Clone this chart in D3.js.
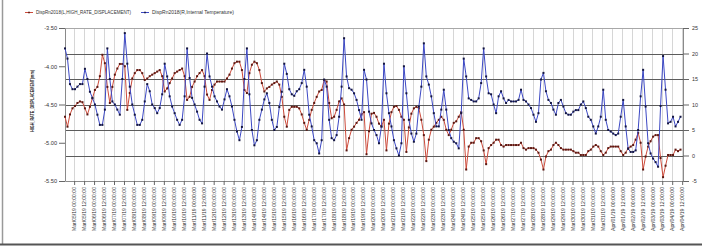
<!DOCTYPE html>
<html>
<head>
<meta charset="utf-8">
<script src="https://cdn.jsdelivr.net/npm/d3@7"></script>
<style>
html, body { margin: 0; padding: 0; background: #fff; }
svg { display: block; font-family: "Liberation Sans", Arial, sans-serif; }
</style>
</head>
<body>
<div id="chart"></div>
<script>
// Series names, axis ticks and sampling
const seriesNames = ["DispRn2018(L,HIGH_RATE_DISPLACEMENT)", "DispRn2018(R,Internal Temperature)"];
const leftTitle = "HIGH_RATE_DISPLACEMENT(mm)";
const leftTicks = [-3.5, -4.0, -4.5, -5.0, -5.5];
const rightTicks = [-5, 0, 5, 10, 15, 20, 25];
const startTime = Date.UTC(2019, 2, 4, 13); // first sample
const endTime = Date.UTC(2019, 3, 4, 13);
const stepHours = 3;

// HIGH_RATE_DISPLACEMENT (mm), one row per day (8 samples of 3 h)
const displacement = [
  -4.66, -4.79, -4.63, -4.55, -4.52, -4.48, -4.46, -4.47,
  -4.55, -4.63, -4.53, -4.42, -4.31, -4.27, -4.13, -3.85,
  -3.96, -4.27, -4.48, -4.27, -4.11, -4.03, -3.97, -3.97,
  -4.00, -4.57, -4.35, -4.16, -4.09, -4.05, -4.05, -4.09,
  -4.18, -4.16, -4.13, -4.11, -4.09, -4.07, -4.05, -4.13,
  -4.33, -4.29, -4.22, -4.16, -4.09, -4.07, -4.05, -4.03,
  -4.13, -4.44, -4.40, -4.27, -4.20, -4.13, -4.09, -4.05,
  -4.13, -4.37, -4.44, -4.31, -4.24, -4.20, -4.20, -4.20,
  -4.20, -4.16, -4.11, -4.03, -3.96, -3.94, -3.94, -4.05,
  -4.31, -4.35, -4.09, -3.98, -3.94, -3.96, -4.05, -4.22,
  -4.33, -4.29, -4.27, -4.24, -4.22, -4.20, -4.24, -4.40,
  -4.66, -4.79, -4.57, -4.53, -4.53, -4.53, -4.55, -4.63,
  -4.74, -4.83, -4.70, -4.57, -4.48, -4.40, -4.33, -4.31,
  -4.18, -4.20, -4.48, -4.68, -4.66, -4.57, -4.46, -4.42,
  -4.50, -5.10, -4.94, -4.83, -4.79, -4.74, -4.70, -4.63,
  -4.60, -5.15, -4.85, -4.62, -4.61, -4.66, -4.75, -4.79,
  -4.70, -5.10, -4.75, -4.60, -4.53, -4.52, -4.57, -4.66,
  -4.70, -5.12, -4.80, -4.62, -4.55, -4.53, -4.55, -4.70,
  -4.90, -5.24, -4.96, -4.83, -4.79, -4.74, -4.70, -4.66,
  -4.70, -4.83, -4.90, -4.83, -4.74, -4.72, -4.66, -4.60,
  -4.83, -5.35, -5.05, -5.00, -5.00, -4.94, -4.94, -4.98,
  -5.10, -5.28, -5.07, -5.03, -5.00, -4.96, -4.96, -5.03,
  -5.05, -5.03, -5.03, -5.03, -5.03, -5.03, -5.03, -5.00,
  -5.07, -5.09, -5.07, -5.07, -5.07, -5.09, -5.13, -5.22,
  -5.35, -5.18, -5.11, -5.09, -5.03, -5.00, -5.03, -5.07,
  -5.09, -5.09, -5.09, -5.09, -5.11, -5.13, -5.13, -5.16,
  -5.16, -5.16, -5.11, -5.09, -5.05, -5.03, -5.05, -5.11,
  -5.16, -5.13, -5.07, -5.05, -5.05, -5.05, -5.05, -5.11,
  -5.16, -5.13, -5.07, -5.05, -5.03, -4.96, -4.87, -5.00,
  -5.35, -5.18, -5.05, -4.98, -4.92, -4.90, -4.90, -5.20,
  -5.45, -5.30, -5.16, -5.16, -5.16, -5.09, -5.11, -5.09
];

// Internal Temperature, same sampling
const temperature = [
  21, 19, 14, 13, 13, 13.5, 14, 14,
  17, 15, 12.5, 11.3, 10, 8, 6, 6,
  9, 21, 15, 10.6, 10, 9, 8, 15,
  24, 18, 13.5, 10, 8, 6, 6, 7,
  10.6, 14, 12.6, 10, 9.3, 8.3, 9.3, 12,
  18, 15.5, 11.6, 9.6, 8.3, 7, 6, 7,
  11.6, 21, 15.2, 11.3, 10, 8.6, 7, 6.3,
  13.5, 20, 15.5, 13.5, 11.6, 10.6, 9.6, 9,
  11, 13, 11.6, 9.6, 7, 4.7, 3, 5.6,
  15, 21, 12, 5, 2, 3, 7, 9,
  11, 12.2, 10.3, 7, 5, 5.6, 9.5, 12.5,
  18, 16, 13, 12, 11.7, 12.6, 13, 14.2,
  16.8, 13.5, 8, 5.7, 3, 2.4, 0.4, 3,
  14.9, 13.5, 7, 3.4, 3, 4, 7.6, 13.5,
  23, 15.5, 13.2, 12.9, 12.2, 10.9, 8.9, 7,
  16.8, 14.9, 8.6, 6.3, 5, 4, 2.4, 5.7,
  18, 12.2, 8.3, 5.7, 3, 1.4, 0, 2.4,
  17.5, 12.2, 7, 4.3, 2.7, 4.3, 9.6, 13.5,
  22, 15.5, 13.9, 11.6, 8.3, 5.7, 5.7, 9,
  12.9, 9, 5, 3.4, 2.7, 2.4, 1.4, 8.3,
  19, 15.5, 11.2, 10.9, 10.6, 10.6, 11.2, 14.2,
  21, 15.5, 12.2, 12, 10, 8.3, 11.6, 12.6,
  11.2, 10.3, 10.9, 10.6, 10.6, 10.6, 10.9, 12.9,
  10.9, 10.6, 10, 9.3, 8, 6.6, 8.3, 14.9,
  16.2, 12.6, 10.9, 10.3, 9, 8, 10.3, 10.9,
  9.6, 8.3, 8, 8, 8.6, 8.9, 8.9, 10,
  10.6, 9.3, 7.6, 7, 5.7, 4.3, 5.7, 7.6,
  12.9, 7, 5, 4.7, 4.3, 4, 4.3, 7.6,
  10.9, 5.7, 1.3, 0.7, 0.7, 1, 5, 11.6,
  16.8, 9.6, 2.4, 0.4, -0.6, -1.3, -2.2, 9.7,
  19.5, 12.9, 6.3, 6.6, 7.6, 5.7, 6.6, 7.6
];

const width = 702, height = 246;
const plot = { left: 65, right: 683, top: 28, bottom: 181 };
const textColor = "#333";

const svg = d3.select("#chart").append("svg")
    .attr("width", width)
    .attr("height", height);

// frame
svg.append("line").attr("x1", 2.5).attr("x2", 2.5).attr("y1", 0).attr("y2", 244)
    .attr("stroke", "#999").attr("stroke-width", 1.5);
svg.append("line").attr("x1", 0).attr("x2", width).attr("y1", 244.5).attr("y2", 244.5)
    .attr("stroke", "#555").attr("stroke-width", 2);

// scales
const x = d3.scaleUtc()
    .domain([startTime, endTime])
    .range([plot.left, plot.right]);
const yL = d3.scaleLinear().domain([-5.5, -3.5]).range([plot.bottom, plot.top]);
const yR = d3.scaleLinear().domain([-5, 25]).range([plot.bottom, plot.top]);

const timeOf = i => new Date(startTime + i * stepHours * 3600 * 1000);
const xTicks = x.ticks(d3.utcHour.every(12));
const fmt = d3.utcFormat("%b/%d/%y %H:%M:%S");

// vertical grid
svg.append("g").selectAll("line")
    .data(xTicks)
    .enter().append("line")
    .attr("x1", d => Math.round(x(d)) + 0.5)
    .attr("x2", d => Math.round(x(d)) + 0.5)
    .attr("y1", plot.top)
    .attr("y2", plot.bottom)
    .attr("stroke", "#d6d6d6")
    .attr("stroke-width", 1);

// horizontal grid (right axis)
svg.append("g").selectAll("line")
    .data(rightTicks.filter(d => d > -5))
    .enter().append("line")
    .attr("x1", plot.left)
    .attr("x2", plot.right)
    .attr("y1", d => Math.round(yR(d)) + 0.5)
    .attr("y2", d => Math.round(yR(d)) + 0.5)
    .attr("stroke", d => d === 25 ? "#a8a8a8" : "#5c5c5c")
    .attr("stroke-width", 1);

// axes
const leftAxis = svg.append("g")
    .attr("transform", `translate(${plot.left},0)`)
    .call(d3.axisLeft(yL).tickValues(leftTicks).tickFormat(d => d.toFixed(2))
        .tickSize(6).tickSizeOuter(0).tickPadding(2));

const rightAxis = svg.append("g")
    .attr("transform", `translate(${plot.right},0)`)
    .call(d3.axisRight(yR).tickValues(rightTicks).tickFormat(d => String(d))
        .tickSize(6).tickSizeOuter(0).tickPadding(3));

const bottomAxis = svg.append("g")
    .attr("transform", `translate(0,${plot.bottom})`)
    .call(d3.axisBottom(x).tickValues(xTicks).tickFormat(fmt)
        .tickSize(4).tickSizeOuter(0));

[leftAxis, rightAxis, bottomAxis].forEach(g => {
    g.attr("font-family", null).attr("font-size", null);
    g.select(".domain").attr("stroke", "#8a8a8a");
    g.selectAll(".tick line").attr("stroke", "#666");
    g.selectAll("text").attr("fill", textColor);
});
leftAxis.selectAll("text").style("font-size", "5.6px");
rightAxis.selectAll("text").style("font-size", "5.4px");
bottomAxis.selectAll("text")
    .style("font-size", "5px")
    .attr("transform", "rotate(-90)")
    .attr("text-anchor", "end")
    .attr("x", -6)
    .attr("y", 0)
    .attr("dy", "0.35em")
    .attr("textLength", 44)
    .attr("lengthAdjust", "spacingAndGlyphs");

// left axis title
svg.append("text")
    .attr("transform", "translate(32,101) rotate(-90)")
    .attr("text-anchor", "middle")
    .attr("dy", "0.35em")
    .attr("fill", "#222")
    .style("font-size", "5px")
    .style("font-weight", "bold")
    .attr("textLength", 62)
    .attr("lengthAdjust", "spacingAndGlyphs")
    .text(leftTitle);

// series
const series = [
    { name: seriesNames[0], values: displacement, y: yL, line: "#cc4a3a", mark: "#5a1812" },
    { name: seriesNames[1], values: temperature, y: yR, line: "#3c48c4", mark: "#141640" }
];

series.forEach(s => {
    const path = d3.line()
        .x((d, i) => x(timeOf(i)))
        .y(d => s.y(d));
    svg.append("path")
        .datum(s.values)
        .attr("d", path)
        .attr("fill", "none")
        .attr("stroke", s.line)
        .attr("stroke-width", 1);
    svg.append("g").selectAll("rect")
        .data(s.values)
        .enter().append("rect")
        .attr("x", (d, i) => x(timeOf(i)) - 1)
        .attr("y", d => s.y(d) - 1)
        .attr("width", 2)
        .attr("height", 2)
        .attr("fill", s.mark);
});

// legend
const legendItems = [
    { x: 25, width: 95, color: series[0].line, mark: series[0].mark, text: seriesNames[0] },
    { x: 141, width: 82, color: series[1].line, mark: series[1].mark, text: seriesNames[1] }
];
const legend = svg.append("g").attr("transform", "translate(0,12.5)");
legendItems.forEach(it => {
    legend.append("line")
        .attr("x1", it.x).attr("x2", it.x + 8)
        .attr("y1", 0).attr("y2", 0)
        .attr("stroke", it.color).attr("stroke-width", 1);
    legend.append("rect")
        .attr("x", it.x + 3.2).attr("y", -0.8)
        .attr("width", 1.6).attr("height", 1.6)
        .attr("fill", it.mark);
    legend.append("text")
        .attr("x", it.x + 11)
        .attr("dy", "0.35em")
        .attr("fill", textColor)
        .style("font-size", "5px")
        .attr("textLength", it.width)
        .attr("lengthAdjust", "spacingAndGlyphs")
        .text(it.text);
});
</script>
</body>
</html>
